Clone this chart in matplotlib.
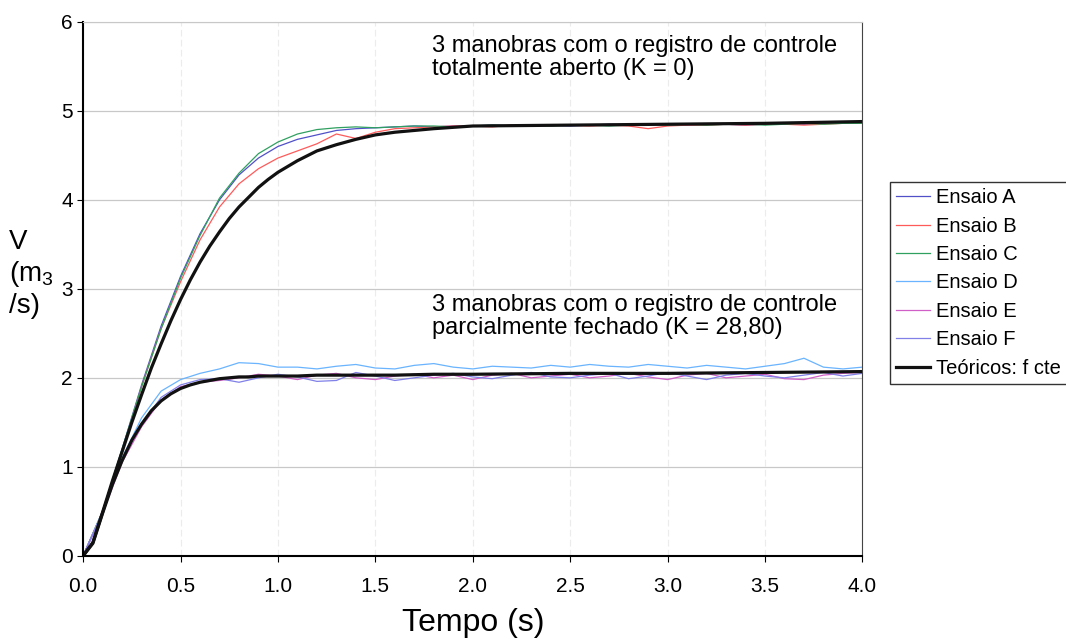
import numpy as np
import matplotlib
matplotlib.use("Agg")
import matplotlib.pyplot as plt

plt.rcParams['font.family'] = ['Liberation Sans', 'DejaVu Sans']
plt.rcParams['mathtext.fontset'] = 'custom'
plt.rcParams['mathtext.rm'] = 'Liberation Sans'

# theoretical curves
t_teo = [0.0, 0.05, 0.1, 0.15, 0.2, 0.25, 0.3, 0.35, 0.4, 0.45, 0.5, 0.55, 0.6, 0.65,
         0.7, 0.75, 0.8, 0.85, 0.9, 0.95, 1.0, 1.1, 1.2, 1.3, 1.4, 1.5, 1.6, 1.8, 2.0,
         2.5, 3.0, 3.5, 4.0]
v_teo_aberto = [0.0, 0.15, 0.49, 0.84, 1.17, 1.50, 1.81, 2.11, 2.38, 2.64, 2.88, 3.10,
                3.30, 3.48, 3.64, 3.79, 3.92, 4.03, 4.14, 4.23, 4.31, 4.44, 4.55, 4.62,
                4.68, 4.73, 4.76, 4.80, 4.83, 4.84, 4.85, 4.86, 4.88]
v_teo_fechado = [0.0, 0.14, 0.48, 0.80, 1.07, 1.30, 1.48, 1.63, 1.74, 1.82, 1.88, 1.92,
                 1.95, 1.97, 1.99, 2.00, 2.01, 2.01, 2.02, 2.02, 2.02, 2.02, 2.03, 2.03,
                 2.03, 2.03, 2.03, 2.04, 2.04, 2.05, 2.05, 2.06, 2.07]

# measured runs, sampled every 0.1 s
t_ens = np.round(np.arange(0, 4.01, 0.1), 1)
ensaio_a = [0.0, 0.5, 1.2, 1.92, 2.58, 3.14, 3.62, 4.0, 4.28, 4.47, 4.6, 4.68, 4.73,
            4.78, 4.8, 4.81, 4.82, 4.83, 4.82, 4.83, 4.83, 4.84, 4.83, 4.84, 4.84,
            4.83, 4.84, 4.85, 4.84, 4.84, 4.85, 4.84, 4.85, 4.85, 4.84, 4.85, 4.86,
            4.85, 4.86, 4.86, 4.86]
ensaio_b = [0.0, 0.5, 1.18, 1.9, 2.55, 3.08, 3.55, 3.92, 4.18, 4.35, 4.47, 4.55, 4.63,
            4.74, 4.69, 4.76, 4.8, 4.81, 4.82, 4.83, 4.83, 4.82, 4.84, 4.83, 4.84,
            4.84, 4.83, 4.84, 4.83, 4.8, 4.83, 4.84, 4.84, 4.85, 4.84, 4.85, 4.85,
            4.84, 4.85, 4.86, 4.86]
ensaio_c = [0.0, 0.5, 1.2, 1.9, 2.55, 3.12, 3.6, 4.02, 4.3, 4.52, 4.65, 4.74, 4.79,
            4.81, 4.82, 4.81, 4.82, 4.83, 4.83, 4.82, 4.83, 4.84, 4.83, 4.84, 4.83,
            4.84, 4.84, 4.83, 4.84, 4.85, 4.84, 4.85, 4.84, 4.85, 4.85, 4.84, 4.85,
            4.86, 4.85, 4.86, 4.86]
ensaio_d = [0.0, 0.5, 1.1, 1.55, 1.85, 1.98, 2.05, 2.1, 2.17, 2.16, 2.12, 2.12, 2.1,
            2.13, 2.15, 2.11, 2.1, 2.14, 2.16, 2.12, 2.1, 2.13, 2.12, 2.11, 2.14, 2.12,
            2.15, 2.13, 2.12, 2.15, 2.13, 2.11, 2.14, 2.12, 2.1, 2.13, 2.16, 2.22, 2.12,
            2.1, 2.12]
ensaio_e = [0.0, 0.48, 1.05, 1.45, 1.75, 1.9, 1.95, 1.97, 2.0, 2.04, 2.02, 1.98, 2.03,
            2.05, 2.0, 1.98, 2.02, 2.04, 2.0, 2.03, 1.98, 2.03, 2.05, 2.0, 2.02, 2.04,
            2.0, 2.02, 2.05, 2.01, 1.98, 2.03, 2.05, 2.0, 2.02, 2.04, 1.99, 1.98, 2.03,
            2.05, 2.06]
ensaio_f = [0.0, 0.48, 1.08, 1.48, 1.78, 1.92, 1.98, 1.99, 1.95, 2.0, 2.04, 2.01, 1.96,
            1.97, 2.06, 2.02, 1.97, 2.0, 2.03, 2.05, 2.01, 1.99, 2.03, 2.06, 2.01, 2.0,
            2.03, 2.05, 1.99, 2.02, 2.06, 2.02, 1.98, 2.03, 2.05, 2.02, 2.0, 2.03, 2.06,
            2.02, 2.05]

nomes = ['Ensaio A', 'Ensaio B', 'Ensaio C', 'Ensaio D', 'Ensaio E', 'Ensaio F']
series = [ensaio_a, ensaio_b, ensaio_c, ensaio_d, ensaio_e, ensaio_f]
cores = ['#5050c8', '#ff5a5a', '#30a060', '#6ab4ff', '#d060c8', '#8080e8']

fig = plt.figure(figsize=(10.66, 6.44), dpi=100)
ax = fig.add_axes([0.078, 0.137, 0.731, 0.829])

for nome, v, c in zip(nomes, series, cores):
    ax.plot(t_ens, v, color=c, lw=0.9, label=nome)
ax.plot(t_teo, v_teo_aberto, color='#111111', lw=2.3, label='Teóricos: f cte')
ax.plot(t_teo, v_teo_fechado, color='#111111', lw=2.3)

ax.set_xlim(0, 4)
ax.set_ylim(0, 6)
ax.set_xticks(np.arange(0, 4.01, 0.5))
ax.set_xticklabels([f'{x:.1f}' for x in np.arange(0, 4.01, 0.5)])
ax.set_yticks(range(7))
ax.tick_params(labelsize=15, length=4, direction='out')
ax.tick_params(axis='x', pad=11)
ax.grid(axis='y', color='#c8c8c8', lw=0.9)
ax.grid(axis='x', color='#ececec', lw=0.8, ls=(0, (6, 3)))
ax.spines['top'].set_color('#c8c8c8')
ax.spines['right'].set_color('#444444')
ax.spines['left'].set_linewidth(1.5)
ax.spines['bottom'].set_linewidth(1.5)

ax.set_xlabel('Tempo (s)', fontsize=23, labelpad=9)
fig.text(0.008, 0.575, 'V\n(m$_3$\n/s)', fontsize=20, ha='left', va='center',
         linespacing=1.2)

ax.text(1.79, 5.6, '3 manobras com o registro de controle\ntotalmente aberto (K = 0)',
        fontsize=17, va='center', linespacing=1.1)
ax.text(1.79, 2.69, '3 manobras com o registro de controle\nparcialmente fechado (K = 28,80)',
        fontsize=17, va='center', linespacing=1.05)

leg = ax.legend(loc='upper left', bbox_to_anchor=(1.035, 0.70), fontsize=14.5,
                frameon=True, fancybox=False, handlelength=1.7, handletextpad=0.3,
                labelspacing=0.47, borderpad=0.3, borderaxespad=0)
leg.get_frame().set_edgecolor('black')
leg.get_frame().set_linewidth(1.0)

fig.savefig('out.png', dpi=100)
